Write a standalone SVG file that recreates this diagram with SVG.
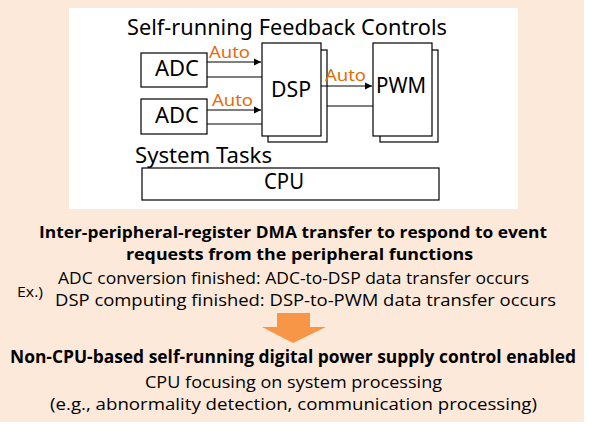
<svg xmlns="http://www.w3.org/2000/svg" width="589" height="439" viewBox="0 0 589 439">
<defs>
<style>
.box{fill:#fff;stroke:#000;stroke-width:1.2}
.t{font-family:"Noto Sans","DejaVu Sans",sans-serif;font-size:21px;fill:#000}
.auto{font-family:"Noto Sans","DejaVu Sans",sans-serif;font-size:17px;fill:#E46C0A}
.b{font-family:"Open Sans","Liberation Sans",Arial,sans-serif;font-weight:bold;fill:#000}
.n{font-family:"Open Sans","Liberation Sans",Arial,sans-serif;fill:#000}
.ln{stroke:#000;stroke-width:1.2;fill:none}
</style>
<marker id="ah" markerWidth="8" markerHeight="8" refX="7" refY="4" orient="auto" markerUnits="userSpaceOnUse">
<path d="M0,0.5 L7,4 L0,7.5 Z" fill="#000"/>
</marker>
</defs>
<rect x="0" y="0" width="589" height="439" fill="#fff"/>
<rect x="0" y="0" width="584" height="422" fill="#FDE9DA"/>
<rect x="69" y="8" width="449" height="201" fill="#fff"/>
<text class="t" x="127" y="34.5" textLength="320" lengthAdjust="spacingAndGlyphs">Self-running Feedback Controls</text>
<g id="adc1"><rect class="box" x="141" y="53" width="66" height="34"/><text class="t" x="155" y="76" textLength="44" lengthAdjust="spacingAndGlyphs">ADC</text></g>
<g id="adc2"><rect class="box" x="141" y="99" width="66" height="35"/><text class="t" x="155" y="123" textLength="44" lengthAdjust="spacingAndGlyphs">ADC</text></g>
<g id="dsp"><rect class="box" x="268" y="50" width="59" height="92"/><rect class="box" x="262" y="43" width="59" height="93"/><text class="t" x="271" y="97" textLength="40" lengthAdjust="spacingAndGlyphs">DSP</text></g>
<g id="pwm"><rect class="box" x="380" y="50" width="58" height="92"/><rect class="box" x="373" y="43" width="59" height="93"/><text class="t" x="376" y="93" textLength="50" lengthAdjust="spacingAndGlyphs">PWM</text></g>
<text class="t" x="135" y="163" textLength="137" lengthAdjust="spacingAndGlyphs">System Tasks</text>
<g id="cpu"><rect class="box" x="142" y="168" width="297" height="32"/><text class="t" x="264" y="189" textLength="40" lengthAdjust="spacingAndGlyphs">CPU</text></g>
<g id="connectors">
<line class="ln" x1="207" y1="62" x2="261" y2="62" marker-end="url(#ah)"/>
<line class="ln" x1="207" y1="77" x2="262" y2="77"/>
<line class="ln" x1="207" y1="110" x2="261" y2="110" marker-end="url(#ah)"/>
<line class="ln" x1="207" y1="124" x2="262" y2="124"/>
<line class="ln" x1="321" y1="86" x2="372" y2="86" marker-end="url(#ah)"/>
<line class="ln" x1="327" y1="106" x2="373" y2="106"/>
</g>
<text class="auto" x="209" y="58" textLength="41" lengthAdjust="spacingAndGlyphs">Auto</text>
<text class="auto" x="212" y="105.5" textLength="41" lengthAdjust="spacingAndGlyphs">Auto</text>
<text class="auto" x="325" y="81" textLength="41" lengthAdjust="spacingAndGlyphs">Auto</text>
<text class="b" x="39" y="238" font-size="16.5" textLength="508" lengthAdjust="spacingAndGlyphs">Inter-peripheral-register DMA transfer to respond to event</text>
<text class="b" x="126" y="260" font-size="16.5" textLength="347" lengthAdjust="spacingAndGlyphs">requests from the peripheral functions</text>
<text class="n" x="17" y="297" font-size="14.5" textLength="26" lengthAdjust="spacingAndGlyphs">Ex.)</text>
<text class="n" x="58" y="284" font-size="17" textLength="471" lengthAdjust="spacingAndGlyphs">ADC conversion finished: ADC-to-DSP data transfer occurs</text>
<text class="n" x="55" y="306" font-size="17" textLength="501" lengthAdjust="spacingAndGlyphs">DSP computing finished: DSP-to-PWM data transfer occurs</text>
<polygon points="277,313 310,313 310,327 326,327 293,343 262,327 277,327" fill="#F79646"/>
<text class="b" x="10" y="363" font-size="17.5" textLength="566" lengthAdjust="spacingAndGlyphs">Non-CPU-based self-running digital power supply control enabled</text>
<text class="n" x="145" y="388" font-size="17" textLength="297" lengthAdjust="spacingAndGlyphs">CPU focusing on system processing</text>
<text class="n" x="50" y="410" font-size="17" textLength="487" lengthAdjust="spacingAndGlyphs">(e.g., abnormality detection, communication processing)</text>
</svg>
